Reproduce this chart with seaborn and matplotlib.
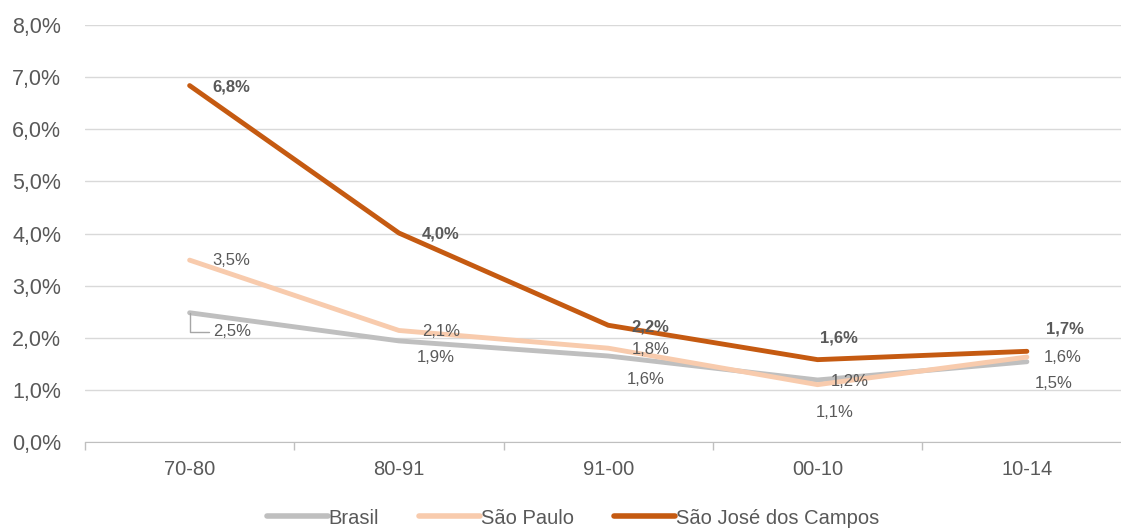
import matplotlib
matplotlib.use("Agg")
import matplotlib.pyplot as plt
import seaborn as sns
import pandas as pd
import numpy as np

periodos = ["70-80", "80-91", "91-00", "00-10", "10-14"]
brasil = [2.48, 1.94, 1.65, 1.19, 1.54]
sao_paulo = [3.49, 2.14, 1.80, 1.10, 1.63]
sjc = [6.84, 4.01, 2.24, 1.58, 1.74]
series = ["Brasil", "São Paulo", "São José dos Campos"]
cores = ["#BFBFBF", "#F8CBAD", "#C55A11"]

df = pd.DataFrame({
    "periodo": periodos * 3,
    "valor": brasil + sao_paulo + sjc,
    "serie": [s for s in series for _ in periodos],
})

sns.set_style("white")
plt.rcParams["font.family"] = ["Liberation Sans", "DejaVu Sans"]
txt = "#595959"

fig = plt.figure(figsize=(11.21, 5.29), dpi=100)
ax = fig.add_axes([0.0758, 0.1645, 0.9336, 0.788])

sns.lineplot(data=df, x="periodo", y="valor", hue="serie", palette=cores,
             linewidth=3.5, ax=ax, sort=False)

ax.set_xlim(-0.5, 4.5)
ax.set_ylim(0, 8)
ax.set_yticks(np.arange(0, 9, 1))
ax.set_yticklabels([f"{v:.1f}%".replace(".", ",") for v in range(9)], color=txt, fontsize=15.5)
ax.set_xticks(range(5))
ax.set_xticklabels(periodos, color=txt, fontsize=14.5)
ax.set_xticks(np.arange(-0.5, 5, 1), minor=True)
ax.tick_params(axis="x", which="both", bottom=True)
ax.tick_params(axis="x", which="major", length=0, pad=13)
ax.tick_params(axis="x", which="minor", length=6, color="#BFBFBF", width=1)
ax.tick_params(axis="y", length=0, pad=17)
ax.grid(axis="y", color="#D9D9D9", linewidth=1)
ax.set_axisbelow(True)
for s in ["top", "right", "left"]:
    ax.spines[s].set_visible(False)
ax.spines["bottom"].set_color("#BFBFBF")
ax.set_xlabel("")
ax.set_ylabel("")

def fmt(v):
    return f"{v:.1f}%".replace(".", ",")

# offsets (pixels) for data labels
off_sjc = [(42, -1), (42, -1), (42, -2), (21, 22), (38, 22)]
off_sp = [(42, 0), (42, -1), (42, -1), (17, -28), (36, 0)]
off_br = [(42, -19), (37, -17), (37, -23), (32, -2), (27, -22)]

for i in range(5):
    ax.annotate(fmt(sjc[i]), (i, sjc[i]), xytext=off_sjc[i], textcoords="offset pixels",
                ha="center", va="center", fontsize=12, color=txt, fontweight="bold")
    ax.annotate(fmt(sao_paulo[i]), (i, sao_paulo[i]), xytext=off_sp[i], textcoords="offset pixels",
                ha="center", va="center", fontsize=12, color=txt)
    if i == 0:
        ax.annotate(fmt(brasil[i]), (i, brasil[i]), xytext=off_br[i], textcoords="offset pixels",
                    ha="center", va="center", fontsize=12, color=txt,
                    arrowprops=dict(arrowstyle="-", color="#A6A6A6", lw=1,
                                    shrinkA=22, shrinkB=0,
                                    connectionstyle="angle,angleA=0,angleB=90,rad=0"))
    else:
        ax.annotate(fmt(brasil[i]), (i, brasil[i]), xytext=off_br[i], textcoords="offset pixels",
                    ha="center", va="center", fontsize=12, color=txt)

leg = ax.legend(loc="center", bbox_to_anchor=(573 / 1121, 1 - 518 / 529),
                bbox_transform=fig.transFigure,
                ncol=3, frameon=False, fontsize=14.5, handlelength=3.0, handletextpad=0.05,
                columnspacing=2.0, labelcolor=txt, borderpad=0)
for h in leg.get_lines():
    h.set_linewidth(4)

fig.savefig("out.png", dpi=100)
